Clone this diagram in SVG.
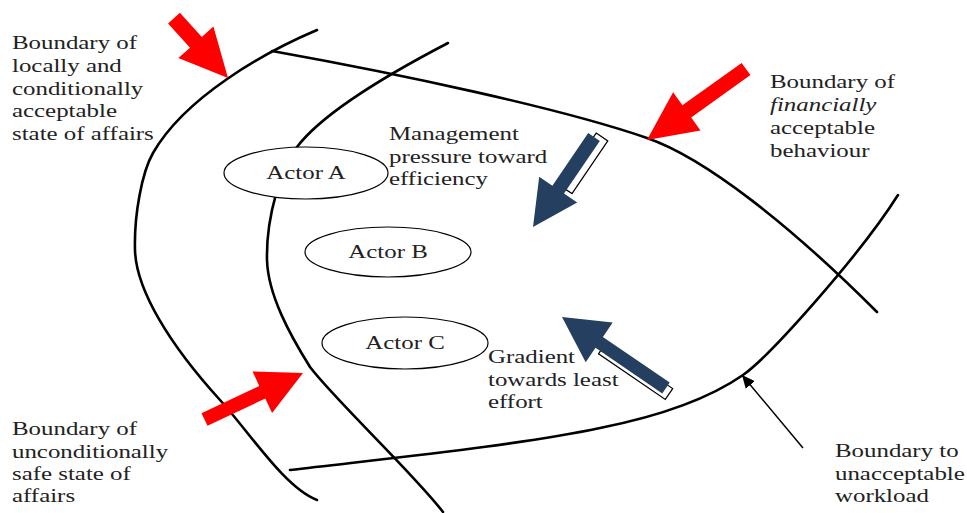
<svg xmlns="http://www.w3.org/2000/svg" width="967" height="513" viewBox="0 0 967 513">
<style>
.t{font-family:"Liberation Serif","Times New Roman",serif;font-size:19px;fill:#222}
.bd{fill:none;stroke:#000;stroke-width:2.6;stroke-linecap:round}
.act{fill:#fff;stroke:#000;stroke-width:1.2}
.red{fill:#ff0000}
.blue{fill:#243f60}
.shd{fill:#fff;stroke:#000;stroke-width:1.2}
</style>
<defs>
<marker id="ah" markerUnits="userSpaceOnUse" markerWidth="14" markerHeight="12" refX="13" refY="6" orient="auto">
<path d="M0,0 L13,6 L0,12 Z" fill="#000"/>
</marker>
</defs>
<rect width="967" height="513" fill="#fff"/>
<g id="boundaries">
<path id="b-local" class="bd" d="M317,30 C265,52 185,97 153,153 C142,172 134,215 135,250 C136,290 170,345 220,400 C250,433 285,488 317,500"/>
<path id="b-safe" class="bd" d="M448,43 C400,68 325,110 297,147 C282,167 266,215 267,260 C268,295 290,335 310,367 C335,400 415,475 443,512"/>
<path id="b-fin" class="bd" d="M272,51 C400,74 560,108 647,138 C705,158 790,225 877,312"/>
<path id="b-work" class="bd" d="M290,470 C400,457 520,445 600,428 C660,416 710,398 743,375 C770,356 860,255 898,195"/>
</g>
<g id="actor-a"><ellipse class="act" cx="306" cy="173" rx="82" ry="26"/><text class="t" text-anchor="middle" transform="translate(306,179) scale(1.31,1)">Actor A</text></g>
<g id="actor-b"><ellipse class="act" cx="388" cy="252" rx="83" ry="25"/><text class="t" text-anchor="middle" transform="translate(388,258) scale(1.31,1)">Actor B</text></g>
<g id="actor-c"><ellipse class="act" cx="405" cy="343" rx="83" ry="26"/><text class="t" text-anchor="middle" transform="translate(405,349) scale(1.31,1)">Actor C</text></g>
<g id="label-local"><text class="t" transform="translate(12,0) scale(1.31,1)"><tspan x="0" y="49">Boundary of</tspan><tspan x="0" y="72">locally and</tspan><tspan x="0" y="95">conditionally</tspan><tspan x="0" y="117">acceptable</tspan><tspan x="0" y="140">state of affairs</tspan></text></g>
<g id="label-safe"><text class="t" transform="translate(12,0) scale(1.31,1)"><tspan x="0" y="435">Boundary of</tspan><tspan x="0" y="458">unconditionally</tspan><tspan x="0" y="480">safe state of</tspan><tspan x="0" y="502">affairs</tspan></text></g>
<g id="label-fin"><text class="t" transform="translate(770,0) scale(1.31,1)"><tspan x="0" y="88">Boundary of</tspan><tspan x="0" y="111" font-style="italic">financially</tspan><tspan x="0" y="134">acceptable</tspan><tspan x="0" y="157">behaviour</tspan></text></g>
<g id="label-mgmt"><text class="t" transform="translate(389,0) scale(1.31,1)"><tspan x="0" y="140">Management</tspan><tspan x="0" y="163">pressure toward</tspan><tspan x="0" y="185">efficiency</tspan></text></g>
<g id="label-grad"><text class="t" transform="translate(488,0) scale(1.31,1)"><tspan x="0" y="363">Gradient</tspan><tspan x="0" y="386">towards least</tspan><tspan x="0" y="408">effort</tspan></text></g>
<g id="label-work"><text class="t" transform="translate(835,0) scale(1.31,1)"><tspan x="0" y="457">Boundary to</tspan><tspan x="0" y="480">unacceptable</tspan><tspan x="0" y="502">workload</tspan></text></g>
<g id="connectors">
<polygon class="red" points="168.1,23.4 190.0,47.7 178.4,58.0 228,78 213.4,26.6 201.8,36.9 179.9,12.7"/>
<polygon class="red" points="741.6,62.9 682.4,105.3 673.1,92.3 647,140 700.5,130.5 691.2,117.5 750.4,75.1"/>
<polygon class="red" points="201.5,413.2 259.3,385.9 252.5,371.4 303,373 272.1,413.0 265.3,398.5 207.5,425.8"/>
<polygon class="shd" points="596.2,133.1 607.8,140.9 572.0,193.6 560.4,185.8"/>
<polygon class="blue" points="588.2,133.1 552.4,185.8 539.2,176.8 533,227 577.2,202.6 564.0,193.6 599.8,140.9"/>
<polygon class="shd" points="672.7,388.6 665.3,399.4 598.5,353.8 605.9,343.0"/>
<polygon class="blue" points="669.7,382.6 602.9,337.0 612.7,322.6 562,317 585.7,362.2 595.5,347.8 662.3,393.4"/>
<line x1="803" y1="448" x2="742" y2="375" stroke="#000" stroke-width="1.5" marker-end="url(#ah)"/>
</g>
</svg>
